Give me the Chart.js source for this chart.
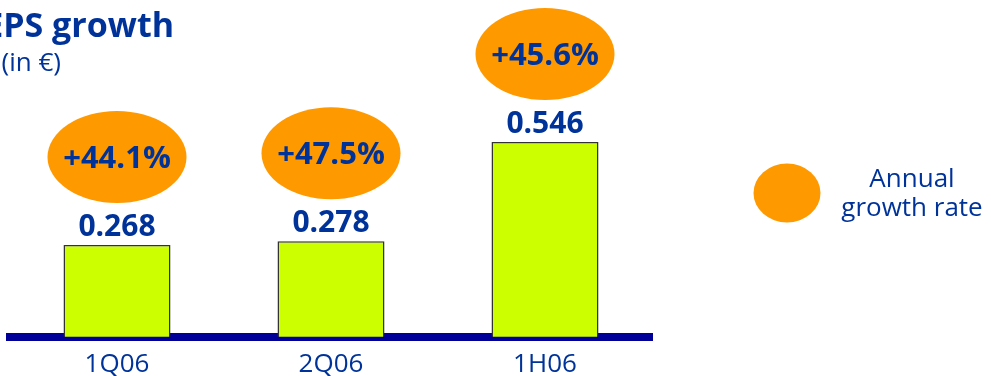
<!DOCTYPE html>
<html>
<head>
<meta charset="utf-8">
<title>EPS growth</title>
<script src="https://cdn.jsdelivr.net/npm/chart.js@4/dist/chart.umd.min.js"></script>
<style>
  html, body { margin: 0; padding: 0; background: #ffffff; overflow: hidden; }
  canvas { display: block; }
</style>
</head>
<body>
<canvas id="eps" width="991" height="376"></canvas>
<script>
// Quarterly / half-year earnings per share (in €) and annual growth rates
const categories = ['1Q06', '2Q06', '1H06'];
const epsValues = [0.268, 0.278, 0.546];
const growthRates = [44.1, 47.5, 45.6];
const titleText = 'EPS growth';
const subtitleText = '(in €)';
const legendLines = ['Annual', 'growth rate'];

const NAVY = '#003399';
const ORANGE = '#FF9900';
const FONT = '"Open Sans", "Noto Sans", sans-serif';

// Orange growth bubbles above the bars, value labels, title and legend
const annotations = {
  id: 'epsAnnotations',
  afterDatasetsDraw(chart) {
    const ctx = chart.ctx;
    const meta = chart.getDatasetMeta(0);
    ctx.save();
    meta.data.forEach((bar, i) => {
      // value label
      ctx.fillStyle = NAVY;
      ctx.font = 'bold 30px ' + FONT;
      ctx.textAlign = 'center';
      ctx.textBaseline = 'alphabetic';
      ctx.fillText(epsValues[i].toFixed(3), bar.x, bar.y - 9);

      // growth bubble
      const cy = bar.y - 88;
      ctx.beginPath();
      ctx.ellipse(bar.x, cy, 69.5, 46, 0, 0, Math.PI * 2);
      ctx.fillStyle = ORANGE;
      ctx.fill();
      ctx.fillStyle = NAVY;
      ctx.font = 'bold 31px ' + FONT;
      ctx.fillText('+' + growthRates[i].toFixed(1) + '%', bar.x, cy + 11);
    });

    // title
    ctx.textAlign = 'right';
    ctx.fillStyle = NAVY;
    ctx.font = 'bold 34px ' + FONT;
    ctx.fillText(titleText, 174, 37);
    ctx.font = '26px ' + FONT;
    ctx.fillText(subtitleText, 61, 71);

    // legend
    ctx.beginPath();
    ctx.ellipse(787, 193, 33.5, 29.5, 0, 0, Math.PI * 2);
    ctx.fillStyle = ORANGE;
    ctx.fill();
    ctx.fillStyle = NAVY;
    ctx.textAlign = 'center';
    ctx.font = '26px ' + FONT;
    ctx.fillText(legendLines[0], 912, 187);
    ctx.fillText(legendLines[1], 912, 216);
    ctx.restore();
  }
};

new Chart(document.getElementById('eps'), {
  type: 'bar',
  data: {
    labels: categories,
    datasets: [{
      data: epsValues,
      backgroundColor: '#CCFF00',
      borderColor: '#333333',
      borderWidth: 1.5,
      borderSkipped: false,
      barPercentage: 0.5,
      categoryPercentage: 1
    }]
  },
  options: {
    responsive: false,
    animation: false,
    devicePixelRatio: 1,
    layout: { padding: { left: 10, right: 339, top: 0, bottom: -16 } },
    plugins: {
      legend: { display: false },
      title: { display: false },
      tooltip: { enabled: false }
    },
    scales: {
      x: {
        z: 1,
        grid: { display: false, drawTicks: false },
        border: { display: true, color: '#000099', width: 8 },
        ticks: {
          color: NAVY,
          font: { family: FONT, size: 26 },
          padding: 12
        }
      },
      y: {
        display: false,
        min: 0.02,
        max: 0.93
      }
    }
  },
  plugins: [annotations]
});
</script>
</body>
</html>
